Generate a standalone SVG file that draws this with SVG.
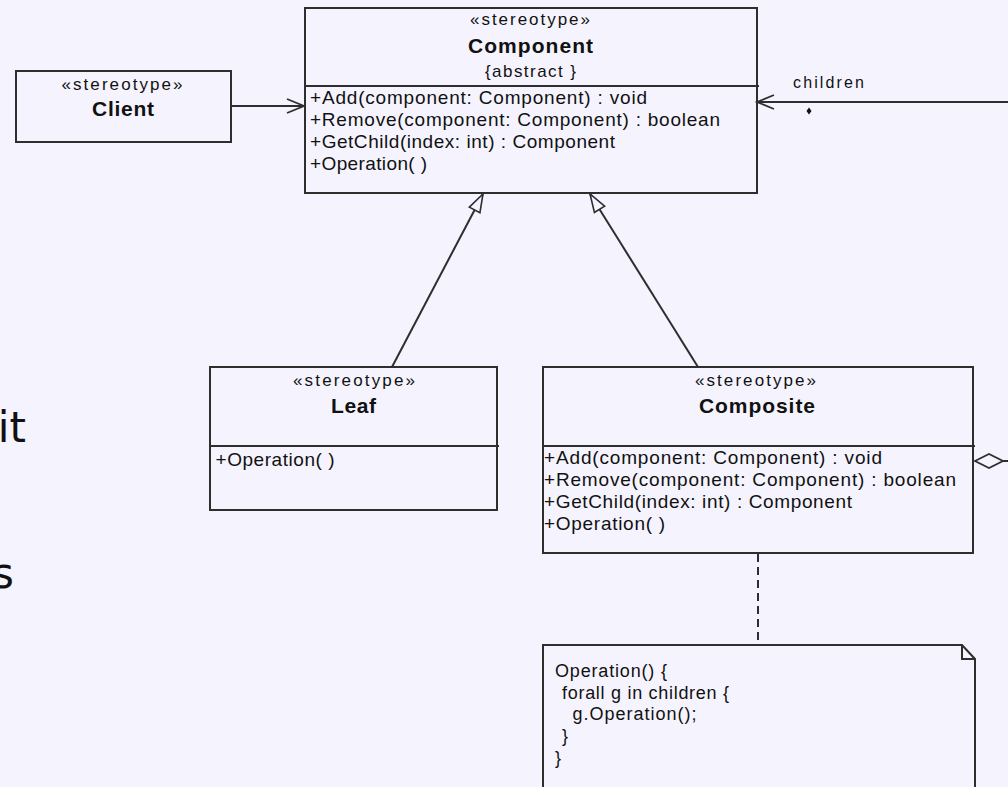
<svg xmlns="http://www.w3.org/2000/svg" width="1008" height="787" viewBox="0 0 1008 787">
<style>
.box{fill:none;stroke:#2e2e2e;stroke-width:2}
.ln{fill:none;stroke:#2e2e2e;stroke-width:2}
.t{font-family:"Liberation Sans",Arial,sans-serif;fill:#111}
.st{font-size:17px}
.nm{font-size:21px;font-weight:bold}
.op{font-size:19px}
.nt{font-size:18px}
.big{font-family:"DejaVu Sans",Verdana,sans-serif;font-size:42px;fill:#111}
</style>
<defs>
<marker id="tri" viewBox="0 0 18 12" markerWidth="18" markerHeight="12" refX="18" refY="6" orient="auto" markerUnits="userSpaceOnUse" overflow="visible">
<path d="M0,0 L18,6 L0,12 Z" fill="#f5f4fe" stroke="#2e2e2e" stroke-width="1.6"/>
</marker>
<marker id="open" viewBox="0 0 17 14" markerWidth="17" markerHeight="14" refX="17" refY="7" orient="auto" markerUnits="userSpaceOnUse" overflow="visible">
<path d="M0,0 L17,7 L0,14" fill="none" stroke="#2e2e2e" stroke-width="1.8"/>
</marker>
<marker id="dia" viewBox="0 0 28 14" markerWidth="28" markerHeight="14" refX="0" refY="7" orient="auto" markerUnits="userSpaceOnUse" overflow="visible">
<path d="M0,7 L14,0 L28,7 L14,14 Z" fill="#f5f4fe" stroke="#2e2e2e" stroke-width="1.8"/>
</marker>
</defs>
<rect x="0" y="0" width="1008" height="787" fill="#f5f4fe"/>

<g id="fragments">
<text class="big" x="26" y="442" text-anchor="end">it</text>
<text class="big" x="14" y="588" text-anchor="end">s</text>
</g>

<g id="connectors">
<path class="ln" d="M231,106 L304,106" marker-end="url(#open)"/>
<path class="ln" d="M1010,102 L757,102" marker-end="url(#open)"/>
<path class="ln" d="M392,367 L483,194" marker-end="url(#tri)"/>
<path class="ln" d="M698,367 L590,194" marker-end="url(#tri)"/>
<path class="ln" d="M975,461 L1010,461" marker-start="url(#dia)"/>
<path class="ln" d="M758,554 L758,645" stroke-dasharray="8,5"/>
<text class="t" x="793" y="88" font-size="16" textLength="71" lengthAdjust="spacing">children</text>
<path d="M809,107.5 L811.5,111 L809,114.5 L806.5,111 Z" fill="#111"/>
</g>

<g id="client">
<rect class="box" x="16" y="71" width="215" height="71"/>
<text class="t st" x="122" y="90" text-anchor="middle" textLength="121" lengthAdjust="spacing">«stereotype»</text>
<text class="t nm" x="123" y="116" text-anchor="middle" textLength="62" lengthAdjust="spacing">Client</text>
</g>

<g id="component">
<rect class="box" x="305" y="8" width="452" height="185"/>
<line class="ln" x1="305" y1="86" x2="759" y2="86"/>
<text class="t st" x="530" y="25" text-anchor="middle" textLength="120" lengthAdjust="spacing">«stereotype»</text>
<text class="t nm" x="530.5" y="53" text-anchor="middle" textLength="125" lengthAdjust="spacing">Component</text>
<text class="t st" x="530.5" y="77" text-anchor="middle" textLength="91" lengthAdjust="spacing">{abstract }</text>
<text class="t op" x="310" y="104" textLength="337" lengthAdjust="spacing">+Add(component: Component) : void</text>
<text class="t op" x="310" y="126" textLength="410" lengthAdjust="spacing">+Remove(component: Component) : boolean</text>
<text class="t op" x="310" y="148" textLength="305" lengthAdjust="spacing">+GetChild(index: int) : Component</text>
<text class="t op" x="310" y="170" textLength="117" lengthAdjust="spacing">+Operation( )</text>
</g>

<g id="leaf">
<rect class="box" x="210" y="367" width="287" height="143"/>
<line class="ln" x1="210" y1="446" x2="499" y2="446"/>
<text class="t st" x="354" y="386" text-anchor="middle" textLength="122" lengthAdjust="spacing">«stereotype»</text>
<text class="t nm" x="353.5" y="413" text-anchor="middle" textLength="45" lengthAdjust="spacing">Leaf</text>
<text class="t op" x="215.5" y="466" textLength="119" lengthAdjust="spacing">+Operation( )</text>
</g>

<g id="composite">
<rect class="box" x="543" y="367" width="430" height="186"/>
<line class="ln" x1="543" y1="446" x2="975" y2="446"/>
<text class="t st" x="755.5" y="386" text-anchor="middle" textLength="121" lengthAdjust="spacing">«stereotype»</text>
<text class="t nm" x="757" y="413" text-anchor="middle" textLength="116" lengthAdjust="spacing">Composite</text>
<text class="t op" x="544" y="464" textLength="338" lengthAdjust="spacing">+Add(component: Component) : void</text>
<text class="t op" x="544" y="486" textLength="412" lengthAdjust="spacing">+Remove(component: Component) : boolean</text>
<text class="t op" x="544" y="508" textLength="308" lengthAdjust="spacing">+GetChild(index: int) : Component</text>
<text class="t op" x="544" y="530" textLength="121" lengthAdjust="spacing">+Operation( )</text>
</g>

<g id="note">
<path class="box" d="M543,800 V645 H962 L975,659 V800"/>
<path class="box" d="M962,645 V659 H975"/>
<text class="t nt" x="555" y="677" textLength="112" lengthAdjust="spacing">Operation() {</text>
<text class="t nt" x="562" y="698.5" textLength="167" lengthAdjust="spacing">forall g in children {</text>
<text class="t nt" x="572.5" y="720" textLength="124" lengthAdjust="spacing">g.Operation();</text>
<text class="t nt" x="562" y="742">}</text>
<text class="t nt" x="555" y="763.5">}</text>
</g>
</svg>
